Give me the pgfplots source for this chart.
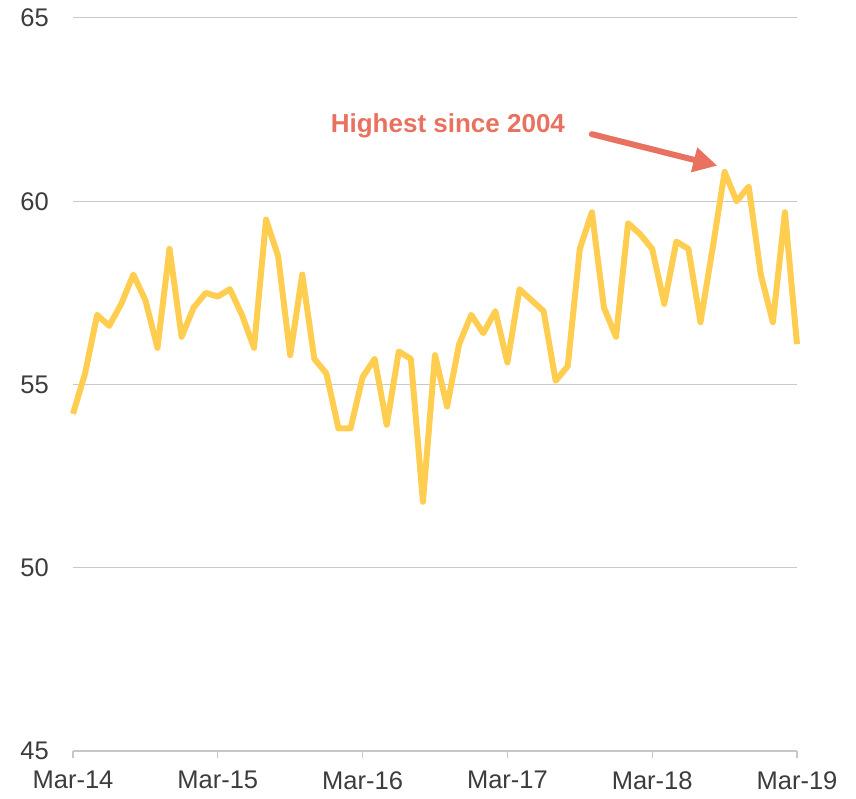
\documentclass[border=0pt]{standalone}
\usepackage{pgfplots}
\pgfplotsset{compat=1.18}
\usepackage{fontspec}
\setmainfont{Liberation Sans}
\usetikzlibrary{arrows.meta}
\definecolor{lineyellow}{RGB}{255,206,80}
\definecolor{annot}{RGB}{232,113,96}
\definecolor{gridgray}{RGB}{200,200,200}
\definecolor{labelgray}{RGB}{60,60,60}
\begin{document}
\begin{tikzpicture}
\path (-73pt,-48pt) rectangle (783pt,751pt);
\begin{axis}[
  at={(0,0)}, anchor=south west,
  scale only axis, width=724pt, height=733pt,
  xmin=0, xmax=60, ymin=45, ymax=65,
  xtick={0,12,24,36,48,60},
  xticklabels={Mar-14,Mar-15,Mar-16,Mar-17,Mar-18,Mar-19},
  ytick={45,50,55,60,65},
  axis x line*=bottom,
  axis y line*=left,
  y axis line style={draw=none},
  x axis line style={draw=gridgray, line width=1.2pt},
  ymajorgrids,
  grid style={draw=gridgray, line width=1pt},
  xtick align=outside,
  major tick length=7pt,
  xtick style={draw=gridgray, line width=1.2pt},
  ytick style={draw=none},
  tick label style={font=\fontsize{25.5}{30}\selectfont, text=labelgray},
  /pgf/number format/assume math mode=true,
  yticklabel style={inner sep=0pt, xshift=-24pt},
  xticklabel style={inner sep=0pt, yshift=-13pt},
  clip=false,
]
\addplot[color=lineyellow, line width=6pt, line join=round] coordinates {
(0,54.2) (1,55.3) (2,56.9) (3,56.6) (4,57.2) (5,58.0) (6,57.3) (7,56.0)
(8,58.7) (9,56.3) (10,57.1) (11,57.5) (12,57.4) (13,57.6) (14,56.9) (15,56.0)
(16,59.5) (17,58.5) (18,55.8) (19,58.0) (20,55.7) (21,55.3) (22,53.8) (23,53.8)
(24,55.2) (25,55.7) (26,53.9) (27,55.9) (28,55.7) (29,51.8) (30,55.8) (31,54.4)
(32,56.1) (33,56.9) (34,56.4) (35,57.0) (36,55.6) (37,57.6) (38,57.3) (39,57.0)
(40,55.1) (41,55.5) (42,58.7) (43,59.7) (44,57.1) (45,56.3) (46,59.4) (47,59.1)
(48,58.7) (49,57.2) (50,58.9) (51,58.7) (52,56.7) (53,58.7) (54,60.8) (55,60.0)
(56,60.4) (57,58.0) (58,56.7) (59,59.7) (60,56.1)
};
\node[text=annot, font=\fontsize{26}{31}\selectfont\bfseries] at (axis cs:31.07,62.05) {Highest since 2004};
\draw[annot, line width=6pt, line cap=round, -{Triangle[length=24pt,width=24pt]}] (axis cs:43.0,61.83) -- (axis cs:53.4,60.97);
\end{axis}
\end{tikzpicture}
\end{document}
